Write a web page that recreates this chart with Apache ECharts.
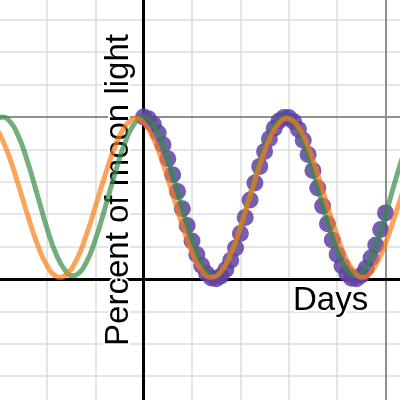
<!DOCTYPE html>
<html>
<head>
<meta charset="utf-8">
<script src="https://cdn.jsdelivr.net/npm/echarts@6/dist/echarts.min.js"></script>
<style>
  html, body { margin: 0; padding: 0; background: #fff; }
  #chart { width: 400px; height: 400px; }
</style>
</head>
<body>
<div id="chart"></div>
<script>
// observed daily moon light (fraction of full)
const moonDays = [0,1,2,3,4,5,6,7,8,9,10,11,12,13,14,15,16,17,18,19,20,21,22,23,24,25,
  26,27,28,29,30,31,32,33,34,35,36,37,38,39,40,41,42,43,44,45,46,47,48,49,50]
const moonLight = [1.000,0.989,0.955,0.901,0.829,0.742,0.644,0.540,0.434,0.330,0.234,0.151,
  0.083,0.034,0.006,0.001,0.019,0.058,0.116,0.191,0.281,0.380,0.487,0.593,0.695,0.787,
  0.866,0.930,0.975,0.997,0.997,0.972,0.924,0.856,0.768,0.669,0.561,0.450,0.341,0.240,
  0.152,0.081,0.032,0.005,0.001,0.023,0.066,0.130,0.210,0.305,0.408]

// green fitted curve
const greenDays = [-30,-29.2,-28,-26,-24,-22,-20,-18,-16,-14.6,-14,-12,-10,-8,-6,-4,-2,0,2,4,
  6,8,10,12,14,14.6,16,18,20,22,24,26,28,29.2,30,32,34,36,38,40,42,43.8,44,46,48,50,52,54]
const greenFit = [0.993,1.000,0.984,0.889,0.724,0.521,0.315,0.146,0.043,0.020,0.024,0.094,
  0.241,0.437,0.645,0.829,0.955,1.000,0.955,0.829,0.645,0.437,0.241,0.094,0.024,0.020,
  0.043,0.146,0.315,0.521,0.724,0.889,0.984,1.000,0.993,0.914,0.761,0.562,0.354,0.174,
  0.056,0.020,0.020,0.075,0.207,0.394,0.604,0.797]

// orange fitted curve
const orangeDays = [-30,-28,-26,-24,-22,-20,-18,-17.25,-16,-14,-12,-10,-8,-6,-4,-2,-1.6,0,2,
  4,6,8,10,12,14,16,18,20,22,24,26,28,29.7,30,32,34,36,38,40,42,44,45.35,46,48,50,52,54]
const orangeFit = [0.909,0.772,0.591,0.395,0.217,0.083,0.015,0.010,0.026,0.110,0.258,0.444,
  0.638,0.811,0.934,0.988,0.990,0.965,0.867,0.712,0.522,0.329,0.162,0.051,0.010,0.047,
  0.154,0.320,0.512,0.703,0.861,0.962,0.990,0.989,0.939,0.818,0.647,0.453,0.266,0.117,
  0.028,0.010,0.014,0.088,0.219,0.394,0.581]

// grid lines (days / fraction)
const minorX = [-20, -10, 10, 20, 30, 40]
const majorX = [50]
const minorY = [-0.6, -0.4, -0.2, 0.2, 0.4, 0.6, 0.8, 1.2, 1.4, 1.6]
const majorY = [1]

const chart = echarts.init(document.getElementById('chart'))

const minorStyle = { color: '#dcdcdc', width: 1.5, type: 'solid' }
const majorStyle = { color: '#8f8f8f', width: 2, type: 'solid' }
const axisStyle = { color: '#000', width: 3, type: 'solid' }

const gridLines = [
  ...minorX.map(v => ({ xAxis: v, lineStyle: minorStyle })),
  ...minorY.map(v => ({ yAxis: v, lineStyle: minorStyle })),
  ...majorX.map(v => ({ xAxis: v, lineStyle: majorStyle })),
  ...majorY.map(v => ({ yAxis: v, lineStyle: majorStyle })),
  { xAxis: 0, lineStyle: axisStyle },
  { yAxis: 0, lineStyle: axisStyle }
]

const labelFont = '"Liberation Sans", Arial, sans-serif'

const option = {
  animation: false,
  grid: { left: 0, right: 0, top: 0, bottom: 0 },
  xAxis: {
    type: 'value',
    min: -29.7,
    max: 53.0,
    axisLine: { show: false },
    axisTick: { show: false },
    axisLabel: { show: false },
    splitLine: { show: false }
  },
  yAxis: {
    type: 'value',
    min: -0.747,
    max: 1.722,
    axisLine: { show: false },
    axisTick: { show: false },
    axisLabel: { show: false },
    splitLine: { show: false }
  },
  graphic: [
    {
      type: 'text',
      x: 135,
      y: 190,
      rotation: Math.PI / 2,
      z: 1,
      style: {
        text: 'Percent of moon light',
        font: '33px ' + labelFont,
        fill: '#000',
        stroke: '#fff',
        lineWidth: 4,
        textAlign: 'center',
        textVerticalAlign: 'bottom'
      }
    },
    {
      type: 'text',
      x: 293,
      y: 317,
      z: 1,
      style: {
        text: 'Days',
        font: '33px ' + labelFont,
        fill: '#000',
        stroke: '#fff',
        lineWidth: 4,
        textAlign: 'left',
        textVerticalAlign: 'bottom'
      }
    }
  ],
  series: [
    {
      name: 'grid',
      type: 'line',
      data: [],
      silent: true,
      markLine: {
        z: 0,
        silent: true,
        symbol: 'none',
        label: { show: false },
        emphasis: { disabled: true },
        data: gridLines
      }
    },
    {
      name: 'moon',
      type: 'scatter',
      z: 2,
      symbolSize: 17,
      data: moonDays.map((d, i) => [d, moonLight[i]]),
      itemStyle: { color: '#6042a6', opacity: 0.85 }
    },
    {
      name: 'green',
      type: 'line',
      z: 3,
      smooth: true,
      showSymbol: false,
      data: greenDays.map((d, i) => [d, greenFit[i]]),
      lineStyle: { color: '#388c46', width: 5, opacity: 0.7 }
    },
    {
      name: 'orange',
      type: 'line',
      z: 4,
      smooth: true,
      showSymbol: false,
      data: orangeDays.map((d, i) => [d, orangeFit[i]]),
      lineStyle: { color: '#fa7e19', width: 5, opacity: 0.7 }
    }
  ]
}

chart.setOption(option)
</script>
</body>
</html>
